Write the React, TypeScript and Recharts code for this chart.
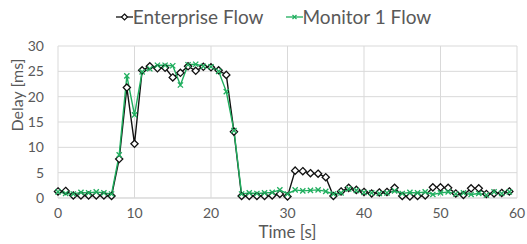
import React from 'react';
import { LineChart, Line, XAxis, YAxis, CartesianGrid, Legend } from 'recharts';

// time axis, one sample per second
const TIME = Array.from({ length: 60 }, (_, i) => i);

const ENTERPRISE = [
  1.3, 1.4, 0.5, 0.5, 0.5, 0.5, 0.5, 0.4, 7.7, 21.8,
  10.7, 25.2, 26.0, 25.6, 25.7, 23.8, 24.7, 26.0, 25.1, 25.9,
  25.8, 25.2, 24.3, 13.1, 0.4, 0.4, 0.4, 0.4, 0.5, 0.8,
  0.3, 5.4, 5.3, 4.9, 4.8, 4.1, 0.4, 1.3, 2.0, 1.6,
  1.2, 0.9, 1.1, 1.2, 2.0, 0.4, 0.3, 0.4, 0.5, 2.1,
  2.1, 2.0, 0.9, 0.6, 1.9, 1.9, 0.8, 0.9, 1.0, 1.3,
];

const MONITOR = [
  1.2, 0.9, 0.8, 1.1, 1.0, 1.2, 1.0, 0.8, 8.5, 24.1,
  16.4, 24.9, 25.5, 26.2, 26.2, 26.1, 22.3, 26.3, 26.4, 26.0,
  25.9, 25.0, 21.0, 13.3, 0.8, 1.0, 0.9, 1.0, 1.1, 1.6,
  0.8, 1.6, 1.4, 1.5, 1.6, 1.3, 0.8, 1.0, 1.8, 1.5,
  1.1, 1.0, 0.9, 1.0, 1.4, 0.9, 1.1, 1.0, 1.2, 0.7,
  1.0, 1.2, 0.8, 1.0, 0.7, 0.9, 0.6, 1.2, 0.9, 1.2,
];

const X_TICKS = [0, 10, 20, 30, 40, 50, 60];
const Y_TICKS = [0, 5, 10, 15, 20, 25, 30];

const FONT = 'Lato, "Open Sans", sans-serif';
const TEXT = '#595959';
const GRID = '#d9d9d9';
const BLACK = '#111111';
const GREEN = '#1fae5e';

const data = TIME.map((t, i) => ({
  t,
  enterprise: ENTERPRISE[i],
  monitor: MONITOR[i],
}));

const DiamondDot = (props: any) => {
  const { cx, cy, index } = props;
  const r = 3.6;
  return (
    <path
      key={`d-${index}`}
      d={`M${cx},${cy - r}L${cx + r},${cy}L${cx},${cy + r}L${cx - r},${cy}Z`}
      fill="#ffffff"
      stroke={BLACK}
      strokeWidth={1.3}
    />
  );
};

const CrossDot = (props: any) => {
  const { cx, cy, index } = props;
  const r = 2.6;
  return (
    <path
      key={`x-${index}`}
      d={`M${cx - r},${cy - r}L${cx + r},${cy + r}M${cx - r},${cy + r}L${cx + r},${cy - r}`}
      stroke={GREEN}
      strokeWidth={1.3}
    />
  );
};

const renderLegend = () => (
  <div
    style={{
      height: 46,
      display: 'flex',
      justifyContent: 'center',
      alignItems: 'flex-start',
      paddingLeft: 30,
      fontFamily: FONT,
      fontSize: 19,
      color: TEXT,
      lineHeight: '34px',
    }}
  >
    <span style={{ display: 'flex', alignItems: 'center', marginRight: 22 }}>
      <svg width={17} height={10}>
        <line x1={0} y1={5} x2={17} y2={5} stroke={BLACK} strokeWidth={1.3} />
        <path d="M8.5,2L11.5,5L8.5,8L5.5,5Z" fill="#fff" stroke={BLACK} strokeWidth={1.2} />
      </svg>
      Enterprise Flow
    </span>
    <span style={{ display: 'flex', alignItems: 'center' }}>
      <svg width={17} height={10}>
        <line x1={0} y1={5} x2={17} y2={5} stroke={GREEN} strokeWidth={1.3} />
        <path d="M6.5,3L10.5,7M6.5,7L10.5,3" stroke={GREEN} strokeWidth={1.2} />
      </svg>
      Monitor 1 Flow
    </span>
  </div>
);

export default function App() {
  return (
    <div style={{ position: 'absolute', left: 0, top: 0, background: '#fff' }}>
      <LineChart
        width={527}
        height={244}
        data={data}
        margin={{ top: 0, right: 10, bottom: 0, left: 0 }}
      >
        <CartesianGrid stroke={GRID} strokeWidth={1} />
        <XAxis
          dataKey="t"
          type="number"
          domain={[0, 60]}
          ticks={X_TICKS}
          height={46}
          tickSize={0}
          tickMargin={10}
          axisLine={{ stroke: GRID }}
          tickLine={false}
          tick={{ fill: TEXT, fontSize: 14, fontFamily: FONT }}
          label={{
            value: 'Time [s]',
            position: 'insideBottom',
            offset: 6,
            style: { fill: TEXT, fontSize: 17, fontFamily: FONT },
          }}
        />
        <YAxis
          type="number"
          domain={[0, 30]}
          ticks={Y_TICKS}
          width={58}
          tickSize={0}
          tickMargin={14}
          axisLine={false}
          tickLine={false}
          tick={{ fill: TEXT, fontSize: 14, fontFamily: FONT }}
          label={{
            content: () => (
              <text
                x={16}
                y={95}
                transform="rotate(-90 16 95)"
                textAnchor="middle"
                dominantBaseline="central"
                fill={TEXT}
                fontSize={16}
                fontFamily={FONT}
              >
                Delay [ms]
              </text>
            ),
          }}
        />
        <Legend verticalAlign="top" content={renderLegend} />
        <Line
          dataKey="enterprise"
          name="Enterprise Flow"
          stroke={BLACK}
          strokeWidth={1.4}
          dot={DiamondDot}
          activeDot={false}
          isAnimationActive={false}
        />
        <Line
          dataKey="monitor"
          name="Monitor 1 Flow"
          stroke={GREEN}
          strokeWidth={1.4}
          dot={CrossDot}
          activeDot={false}
          isAnimationActive={false}
        />
      </LineChart>
    </div>
  );
}
